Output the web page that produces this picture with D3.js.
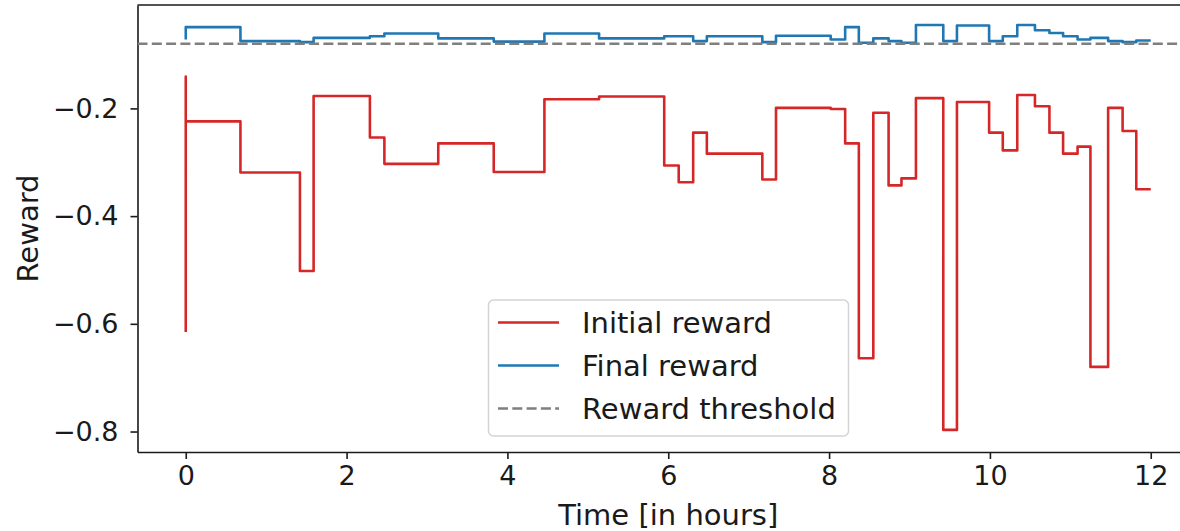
<!DOCTYPE html>
<html>
<head>
<meta charset="utf-8">
<script src="https://cdn.jsdelivr.net/npm/d3@7"></script>
<style>
  html, body { margin: 0; padding: 0; background: #fff; }
  svg { display: block; font-family: "DejaVu Sans", sans-serif; }
</style>
</head>
<body>
<svg id="chart" width="1180" height="531"></svg>
<script>
// Time stamps (hours) at which the reward changes; step-after semantics.
const times = [0, 0, 0, 0.68, 1.42, 1.59, 2.29, 2.47, 3.14, 3.83, 4.46, 5.14, 5.95,
  6.13, 6.31, 6.48, 7.17, 7.34, 8.02, 8.2, 8.37, 8.55, 8.74,
  8.9, 9.08, 9.42, 9.59, 9.99, 10.16, 10.34, 10.56, 10.74, 10.91,
  11.09, 11.25, 11.47, 11.65, 11.82, 12];

const initialReward = [-0.615, -0.141, -0.224, -0.319, -0.502, -0.177, -0.254, -0.303, -0.265, -0.318, -0.183, -0.178, -0.306,
  -0.337, -0.245, -0.284, -0.332, -0.199, -0.201, -0.265, -0.664, -0.208, -0.343,
  -0.330, -0.181, -0.797, -0.188, -0.245, -0.278, -0.175, -0.196, -0.245, -0.284,
  -0.271, -0.680, -0.199, -0.242, -0.350, -0.350];

const finalReward = [-0.072, -0.049, -0.049, -0.075, -0.077, -0.069, -0.066, -0.061, -0.070, -0.076, -0.061, -0.070, -0.066,
  -0.066, -0.075, -0.066, -0.077, -0.065, -0.072, -0.049, -0.078, -0.070, -0.075,
  -0.078, -0.045, -0.075, -0.046, -0.075, -0.066, -0.045, -0.055, -0.060, -0.066,
  -0.072, -0.069, -0.075, -0.077, -0.074, -0.074];

const rewardThreshold = -0.08;

const xTicks = [0, 2, 4, 6, 8, 10, 12];
const yTicks = [-0.8, -0.6, -0.4, -0.2];

const legendLabels = ["Initial reward", "Final reward", "Reward threshold"];

const colors = { initial: "#d62728", final: "#1f77b4", threshold: "#7f7f7f" };

const svg = d3.select("#chart");

const plot = { left: 137.5, right: 1199, top: 5, bottom: 452 };

const x = d3.scaleLinear().domain([-0.6, 12.6]).range([plot.left, plot.right]);
const y = d3.scaleLinear().domain([-0.838, -0.008]).range([plot.bottom, plot.top]);

svg.append("defs").append("clipPath").attr("id", "plotArea")
  .append("rect")
  .attr("x", plot.left).attr("y", plot.top)
  .attr("width", plot.right - plot.left).attr("height", plot.bottom - plot.top);

const fmt = d => (d < 0 ? "\u2212" : "") + Math.abs(d).toFixed(1);

// Axes
const yAxis = svg.append("g")
  .attr("transform", `translate(${plot.left},0)`)
  .call(d3.axisLeft(y).tickValues(yTicks).tickFormat(fmt).tickSize(7).tickPadding(12).tickSizeOuter(0));

const xAxis = svg.append("g")
  .attr("transform", `translate(0,${plot.bottom})`)
  .call(d3.axisBottom(x).tickValues(xTicks).tickFormat(d3.format("d")).tickSize(7).tickPadding(7).tickSizeOuter(0));

[yAxis, xAxis].forEach(g => {
  g.selectAll("path.domain").attr("stroke", "#1a1a1a").attr("stroke-width", 1.6);
  g.selectAll(".tick line").attr("stroke", "#1a1a1a").attr("stroke-width", 1.6);
  g.selectAll(".tick text").attr("fill", "#1a1a1a")
    .style("font-family", "'DejaVu Sans', sans-serif").style("font-size", "27px");
});

// Top spine
svg.append("line")
  .attr("x1", plot.left).attr("x2", plot.right)
  .attr("y1", plot.top).attr("y2", plot.top)
  .attr("stroke", "#1a1a1a").attr("stroke-width", 1.6);

// Data lines
const stepLine = values => d3.line()
  .x((d, i) => x(times[i]))
  .y(d => y(d))
  .curve(d3.curveStepAfter)(values);

const lines = svg.append("g").attr("clip-path", "url(#plotArea)");

lines.append("path")
  .attr("d", stepLine(initialReward))
  .attr("fill", "none").attr("stroke", colors.initial)
  .attr("stroke-width", 2.6).attr("stroke-linejoin", "round");

lines.append("path")
  .attr("d", stepLine(finalReward))
  .attr("fill", "none").attr("stroke", colors.final)
  .attr("stroke-width", 2.6).attr("stroke-linejoin", "round");

lines.append("line")
  .attr("x1", plot.left).attr("x2", plot.right)
  .attr("y1", y(rewardThreshold)).attr("y2", y(rewardThreshold))
  .attr("stroke", colors.threshold).attr("stroke-width", 2.6)
  .attr("stroke-dasharray", "10,4.3");

// Axis labels
svg.append("text")
  .attr("x", x(6)).attr("y", 525)
  .attr("text-anchor", "middle")
  .style("font-size", "29px").attr("fill", "#1a1a1a")
  .text("Time [in hours]");

svg.append("text")
  .attr("transform", `translate(38,${(plot.top + plot.bottom) / 2}) rotate(-90)`)
  .attr("text-anchor", "middle")
  .style("font-size", "29px").attr("fill", "#1a1a1a")
  .text("Reward");

// Legend
const legend = svg.append("g");
legend.append("rect")
  .attr("x", 488.5).attr("y", 300).attr("width", 360).attr("height", 136)
  .attr("rx", 5).attr("fill", "#fff").attr("fill-opacity", 0.8)
  .attr("stroke", "#d4d4d4").attr("stroke-width", 1.5);

const legendStyles = [
  { color: colors.initial, dash: null },
  { color: colors.final, dash: null },
  { color: colors.threshold, dash: "10,4.3" }
];

legendLabels.forEach((label, i) => {
  const cy = 322.5 + i * 43;
  legend.append("line")
    .attr("x1", 498).attr("x2", 559).attr("y1", cy).attr("y2", cy)
    .attr("stroke", legendStyles[i].color).attr("stroke-width", 2.6)
    .attr("stroke-dasharray", legendStyles[i].dash);
  legend.append("text")
    .attr("x", 582).attr("y", cy).attr("dy", "0.36em")
    .style("font-size", "29px").attr("fill", "#1a1a1a")
    .text(label);
});
</script>
</body>
</html>
